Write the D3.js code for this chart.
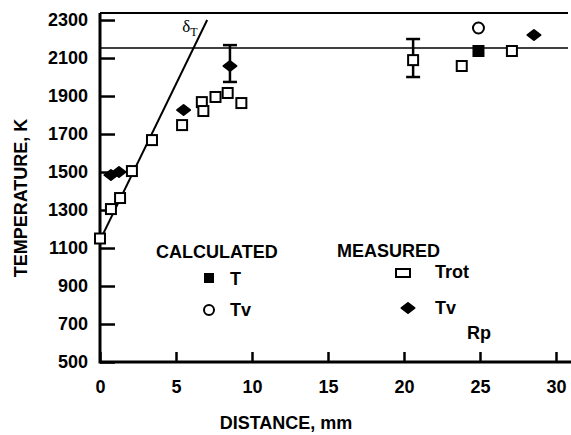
<!DOCTYPE html>
<html>
<head>
<meta charset="utf-8">
<script src="https://cdn.jsdelivr.net/npm/d3@7"></script>
<style>
  body { margin: 0; background: #fff; }
  svg { display: block; }
  text { font-family: "Liberation Sans", Arial, sans-serif; font-weight: bold; fill: #000; }
</style>
</head>
<body>
<div id="chart"></div>
<script>
// Tick values
var xTicks = [0, 5, 10, 15, 20, 25, 30];
var yTicks = [500, 700, 900, 1100, 1300, 1500, 1700, 1900, 2100, 2300];

// Measured Trot (open squares)
var trotX = [0, 0.72, 1.32, 2.1, 3.42, 5.4, 6.7, 6.8, 7.6, 8.4, 9.3, 20.6, 23.8, 27.1];
var trotY = [1150, 1305, 1363, 1505, 1668, 1747, 1868, 1821, 1895, 1916, 1863, 2089, 2058, 2137];
// error bar on Trot at 20.6 mm
var trotErr = [20.6, 2000, 2200];

// Measured Tv (filled diamonds)
var tvX = [0.72, 1.25, 5.5, 8.55, 28.55];
var tvY = [1484, 1500, 1826, 2058, 2221];
var tvErr = [8.55, 1974, 2168];

// Calculated
var calcTX = [24.9];
var calcTY = [2137];
var calcTvX = [24.9];
var calcTvY = [2258];

// delta_T line and reference level
var deltaX = [0, 7.05];
var deltaY = [1140, 2300];
var refLevel = 2153;

var width = 571, height = 435;
var mLeft = 100, mRight = 568, mTop = 13, mBottom = 362;

var x = d3.scaleLinear().domain([0, 30.79]).range([mLeft, mRight]);
var y = d3.scaleLinear().domain([500, 2337]).range([mBottom, mTop]);

var svg = d3.select('#chart').append('svg')
  .attr('width', width)
  .attr('height', height);

svg.append('rect').attr('width', width).attr('height', height).attr('fill', '#fff');

// Axes
var yAxis = d3.axisLeft(y).tickValues(yTicks).tickFormat(d3.format('d'))
  .tickSize(-15).tickPadding(12);
var gy = svg.append('g').attr('transform', 'translate(' + mLeft + ',0)').call(yAxis);
gy.select('.domain').remove();
gy.selectAll('line').attr('stroke', '#000').attr('stroke-width', 2.5);
gy.selectAll('text').style('font-size', '18px');

var xAxis = d3.axisBottom(x).tickValues(xTicks).tickFormat(d3.format('d'))
  .tickSize(-10).tickPadding(18);
var gx = svg.append('g').attr('transform', 'translate(0,' + mBottom + ')').call(xAxis);
gx.select('.domain').remove();
gx.selectAll('line').attr('stroke', '#000').attr('stroke-width', 2.5);
gx.selectAll('text').style('font-size', '18px');

// Frame lines: left, bottom, top
svg.append('line').attr('x1', mLeft).attr('x2', mLeft).attr('y1', mTop).attr('y2', mBottom + 1.5)
  .attr('stroke', '#000').attr('stroke-width', 3);
svg.append('line').attr('x1', mLeft).attr('x2', width).attr('y1', mBottom).attr('y2', mBottom)
  .attr('stroke', '#000').attr('stroke-width', 3);
svg.append('line').attr('x1', mLeft).attr('x2', mRight).attr('y1', mTop).attr('y2', mTop)
  .attr('stroke', '#000').attr('stroke-width', 2);

// Reference level
svg.append('line')
  .attr('x1', mLeft).attr('x2', mRight)
  .attr('y1', y(refLevel)).attr('y2', y(refLevel))
  .attr('stroke', '#000').attr('stroke-width', 1.5);

// delta_T line
var lineData = deltaX.map(function(d, i) { return [d, deltaY[i]]; });
svg.append('path')
  .datum(lineData)
  .attr('d', d3.line().x(function(d) { return x(d[0]); }).y(function(d) { return y(d[1]); }))
  .attr('stroke', '#000').attr('stroke-width', 2).attr('fill', 'none');

var dl = svg.append('text')
  .attr('x', x(deltaX[1]) - 25).attr('y', 32)
  .style('font-family', '"Liberation Serif", "Times New Roman", serif')
  .style('font-weight', 'normal')
  .style('font-size', '17px');
dl.append('tspan').text('δ');
dl.append('tspan').attr('dy', 4).style('font-size', '12px').text('T');

// Error bars
function errorBar(e) {
  var g = svg.append('g').attr('stroke', '#000').attr('stroke-width', 2.5);
  g.append('line').attr('x1', x(e[0])).attr('x2', x(e[0])).attr('y1', y(e[1])).attr('y2', y(e[2]));
  g.append('line').attr('x1', x(e[0]) - 7).attr('x2', x(e[0]) + 7).attr('y1', y(e[1])).attr('y2', y(e[1]));
  g.append('line').attr('x1', x(e[0]) - 7).attr('x2', x(e[0]) + 7).attr('y1', y(e[2])).attr('y2', y(e[2]));
}
errorBar(trotErr);
errorBar(tvErr);

var diamond = 'M-6.5,0L0,-5L6.5,0L0,5Z';

// Trot squares
svg.selectAll('.trot')
  .data(trotX.map(function(d, i) { return [d, trotY[i]]; }))
  .enter().append('rect')
  .attr('class', 'trot')
  .attr('x', function(d) { return x(d[0]) - 5; })
  .attr('y', function(d) { return y(d[1]) - 5; })
  .attr('width', 10).attr('height', 10)
  .attr('fill', '#fff').attr('stroke', '#000').attr('stroke-width', 2);

// Tv diamonds
svg.selectAll('.tv')
  .data(tvX.map(function(d, i) { return [d, tvY[i]]; }))
  .enter().append('path')
  .attr('class', 'tv')
  .attr('d', diamond)
  .attr('transform', function(d) { return 'translate(' + x(d[0]) + ',' + y(d[1]) + ')'; })
  .attr('fill', '#000').attr('stroke', '#000').attr('stroke-width', 2).attr('stroke-linejoin', 'round');

// Calculated T (filled square)
svg.selectAll('.calct')
  .data(calcTX.map(function(d, i) { return [d, calcTY[i]]; }))
  .enter().append('rect')
  .attr('class', 'calct')
  .attr('x', function(d) { return x(d[0]) - 6; })
  .attr('y', function(d) { return y(d[1]) - 6; })
  .attr('width', 12).attr('height', 12)
  .attr('fill', '#000');

// Calculated Tv (open circle)
svg.selectAll('.calctv')
  .data(calcTvX.map(function(d, i) { return [d, calcTvY[i]]; }))
  .enter().append('circle')
  .attr('class', 'calctv')
  .attr('cx', function(d) { return x(d[0]); })
  .attr('cy', function(d) { return y(d[1]); })
  .attr('r', 5.5)
  .attr('fill', '#fff').attr('stroke', '#000').attr('stroke-width', 2);

// Axis titles
svg.append('text')
  .attr('transform', 'translate(27,198) rotate(-90)')
  .attr('text-anchor', 'middle')
  .style('font-size', '18px')
  .text('TEMPERATURE, K');

svg.append('text')
  .attr('x', 286).attr('y', 423).attr('dy', '0.36em')
  .attr('text-anchor', 'middle')
  .style('font-size', '18px')
  .text('DISTANCE, mm');

// Legend
function label(tx, ty, s) {
  svg.append('text').attr('x', tx).attr('y', ty).attr('dy', '0.36em')
    .style('font-size', '18px').text(s);
}
label(156, 252, 'CALCULATED');
label(337, 251, 'MEASURED');

svg.append('rect').attr('x', 204).attr('y', 273).attr('width', 10).attr('height', 10).attr('fill', '#000');
label(230, 279, 'T');
svg.append('circle').attr('cx', 209).attr('cy', 310).attr('r', 5).attr('fill', '#fff')
  .attr('stroke', '#000').attr('stroke-width', 2);
label(230, 310, 'Tv');

svg.append('rect').attr('x', 396).attr('y', 269).attr('width', 14).attr('height', 8)
  .attr('fill', '#fff').attr('stroke', '#000').attr('stroke-width', 2);
label(435, 272, 'Trot');
svg.append('path').attr('d', diamond).attr('transform', 'translate(408,308)')
  .attr('fill', '#000').attr('stroke', '#000').attr('stroke-width', 2).attr('stroke-linejoin', 'round');
label(435, 308, 'Tv');
label(467, 333, 'Rp');
</script>
</body>
</html>
